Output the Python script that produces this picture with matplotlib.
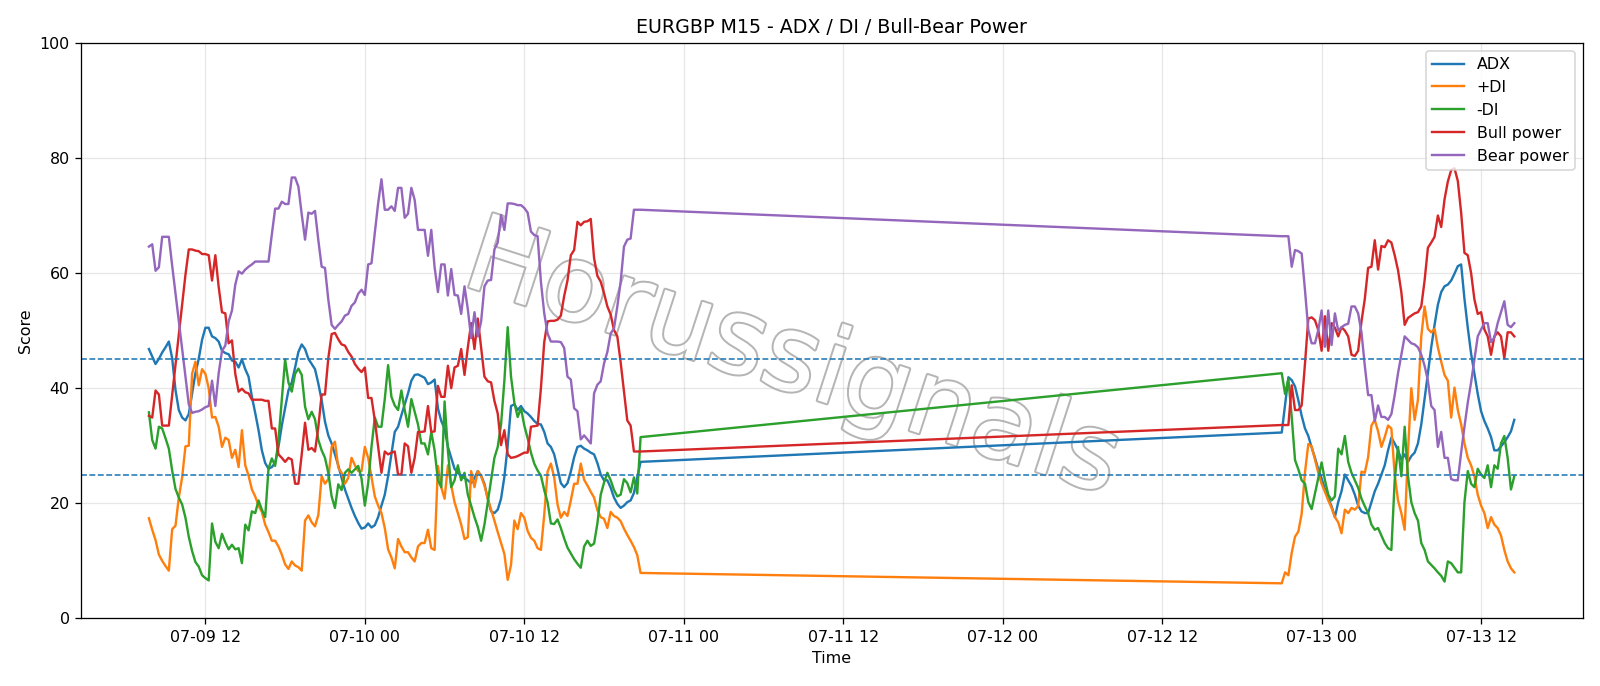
import matplotlib
matplotlib.use("Agg")
import matplotlib.pyplot as plt
import matplotlib.dates as mdates
import matplotlib.patheffects as pe
import pandas as pd

# M15 bars, friday evening -> sunday evening gap
times = list(pd.date_range("2020-07-09 07:45", periods=149, freq="15min")) + \
    list(pd.date_range("2020-07-12 21:00", periods=71, freq="15min"))

adx = [
    46.8, 45.5, 44.2, 45.1, 46.2, 47.1, 48.1, 45.2, 39.7, 36.2,
    34.9, 34.4, 35.5, 39.0, 42.6, 45.1, 48.4, 50.5, 50.5, 49.0,
    48.7, 48.1, 46.5, 46.1, 45.9, 44.8, 44.6, 43.6, 45.0, 43.3,
    42.0, 38.5, 35.7, 32.7, 29.2, 27.0, 26.0, 26.3, 27.0, 29.8,
    33.5, 36.6, 39.6, 41.0, 43.6, 46.3, 47.6, 46.8, 45.1, 44.2,
    43.3, 40.8, 37.9, 34.2, 31.8, 30.4, 28.5, 26.6, 24.4, 22.4,
    20.8, 19.2, 17.8, 16.6, 15.6, 15.8, 16.5, 15.8, 16.2, 17.6,
    19.6, 21.5, 24.7, 28.5, 32.4, 33.3, 35.3, 37.2, 39.1, 41.3,
    42.3, 42.4, 42.1, 41.8, 40.7, 41.0, 41.5, 36.5, 34.3, 33.0,
    29.8, 27.9, 26.0, 25.3, 24.7, 24.4, 24.0, 23.5, 24.4, 25.6,
    24.8, 23.4, 20.8, 18.6, 18.3, 18.9, 20.8, 24.6, 30.0, 36.9,
    37.2, 36.2, 36.9, 36.0, 35.6, 35.0, 34.3, 33.8, 33.7, 32.4,
    30.4, 29.8, 28.5, 26.0, 23.5, 22.8, 23.5, 25.5, 28.0, 29.8,
    30.0, 29.5, 29.2, 28.8, 28.5, 27.0, 25.0, 24.0, 24.0, 22.7,
    21.0, 19.9, 19.2, 19.6, 20.2, 20.5, 21.8, 24.5, 27.2,
    # sunday open
    32.3, 37.1, 41.9, 41.4, 40.3, 37.9, 35.2, 33.0, 31.7, 29.7,
    27.9, 25.9, 24.3, 22.4, 20.8, 19.5, 17.6, 20.2, 22.1, 25.0,
    24.0, 23.0, 21.5, 19.6, 18.6, 18.3, 18.3, 20.2, 22.1, 23.4,
    25.0, 26.6, 29.2, 31.4, 30.4, 29.2, 27.6, 28.5, 27.2, 28.2,
    28.8, 30.4, 33.7, 38.1, 42.6, 47.1, 51.0, 54.5, 56.7, 57.7,
    58.0, 58.7, 59.9, 61.2, 61.5, 55.5, 50.5, 46.0, 42.5, 39.0,
    36.0, 34.3, 33.0, 31.5, 29.2, 29.2, 29.9, 30.6, 31.5, 32.5,
    34.5,
]

plus_di = [
    17.4, 15.4, 13.6, 11.1, 10.0, 9.1, 8.3, 15.5, 16.1, 21.0,
    24.5, 29.9, 30.0, 42.5, 44.6, 40.5, 43.3, 42.5, 40.0, 34.9,
    35.0, 33.3, 29.8, 31.4, 31.0, 27.9, 29.3, 26.3, 32.7, 26.6,
    24.8, 22.4, 21.2, 19.6, 18.5, 16.3, 15.0, 13.5, 13.5, 12.5,
    11.1, 9.4, 8.6, 9.9, 9.2, 8.9, 8.3, 17.0, 17.9, 16.7,
    16.0, 18.0, 24.7, 23.4, 24.2, 29.8, 30.7, 26.2, 25.3, 23.4,
    24.4, 27.9, 26.6, 25.6, 25.6, 29.8, 27.9, 24.5, 21.2, 19.6,
    18.3, 15.7, 12.0, 10.6, 8.7, 13.8, 12.5, 11.5, 11.5, 10.6,
    9.9, 12.5, 13.1, 13.1, 15.4, 12.2, 11.9, 26.5, 22.8, 20.8,
    26.6, 23.1, 20.2, 18.3, 16.3, 13.8, 14.1, 25.6, 22.8, 25.6,
    24.7, 23.1, 20.8, 18.9, 17.0, 15.0, 13.1, 11.2, 6.7, 9.3,
    17.0, 15.5, 18.3, 17.5, 15.2, 14.0, 13.5, 12.2, 11.9, 18.0,
    25.5, 26.9, 24.5, 19.8, 17.5, 18.5, 17.8, 20.5, 23.4, 23.4,
    26.9, 24.1, 23.1, 22.0, 21.0, 18.8, 17.6, 17.3, 15.7, 18.5,
    17.8, 17.5, 16.9, 15.6, 14.5, 13.5, 12.4, 11.0, 7.9,
    # sunday open
    6.1, 8.0, 7.5, 11.4, 14.2, 15.1, 18.2, 25.4, 30.3, 29.9,
    27.6, 25.3, 23.4, 22.0, 20.5, 19.2, 17.6, 16.7, 14.8, 18.9,
    18.3, 19.2, 18.9, 19.5, 25.5, 25.3, 28.0, 33.5, 34.5, 32.5,
    29.8, 31.5, 33.5, 33.0, 25.0, 20.5, 18.3, 15.4, 29.0, 40.0,
    34.5, 38.0, 49.0, 54.2, 50.3, 49.7, 50.3, 47.1, 44.6, 42.3,
    41.3, 34.9, 40.1, 36.2, 33.7, 30.4, 27.9, 26.6, 24.7, 21.5,
    19.6, 18.3, 15.7, 17.6, 16.3, 15.7, 14.4, 11.9, 9.9, 8.7,
    8.0,
]

minus_di = [
    35.8, 31.0, 29.5, 33.3, 33.0, 31.3, 29.5, 25.7, 22.5, 21.0,
    19.8, 17.5, 14.2, 11.7, 9.8, 9.0, 7.5, 7.0, 6.6, 16.5,
    13.3, 12.2, 14.7, 13.2, 12.0, 12.8, 12.0, 12.2, 9.6, 16.3,
    15.3, 18.6, 18.3, 20.5, 18.9, 17.6, 26.0, 27.8, 26.5, 31.0,
    38.0, 45.0, 41.0, 39.4, 42.5, 43.4, 42.3, 36.8, 34.6, 35.9,
    34.6, 31.0, 29.2, 27.9, 25.3, 21.2, 19.2, 23.3, 22.3, 25.3,
    25.9, 25.3, 25.9, 26.5, 24.3, 19.6, 23.5, 29.8, 34.9, 33.3,
    33.3, 38.1, 44.0, 38.5, 37.0, 36.2, 39.6, 36.2, 33.3, 38.1,
    35.9, 33.7, 30.4, 30.4, 28.5, 32.4, 29.2, 24.0, 22.8, 37.7,
    29.2, 22.8, 24.0, 26.6, 24.0, 25.3, 21.5, 19.6, 17.6, 15.9,
    13.5, 16.3, 20.2, 24.0, 27.9, 29.8, 33.7, 41.3, 50.6, 42.0,
    37.5, 35.0, 36.5, 33.5, 31.3, 28.8, 26.9, 25.7, 24.8, 22.3,
    20.2, 16.5, 16.4, 17.2, 15.7, 13.9, 12.3, 11.3, 10.3, 9.5,
    8.8, 12.5, 13.5, 12.6, 13.0, 16.5, 21.5, 23.6, 25.3, 24.0,
    22.3, 21.2, 21.5, 24.2, 23.5, 21.9, 24.5, 21.7, 31.5,
    # sunday open
    42.6, 39.0, 41.6, 35.0, 27.5, 25.9, 24.0, 23.4, 20.2, 19.0,
    21.7, 24.4, 27.1, 24.0, 21.5, 20.5, 21.2, 29.5, 28.5, 31.7,
    27.2, 25.3, 24.0, 22.7, 20.8, 19.5, 18.3, 16.3, 15.4, 15.7,
    14.4, 13.1, 12.2, 11.9, 24.0, 29.8, 24.7, 33.3, 24.7, 20.2,
    18.3, 17.0, 13.1, 11.9, 9.9, 9.3, 8.7, 8.0, 7.4, 6.4,
    9.9, 9.6, 8.8, 8.0, 8.0, 20.2, 25.6, 23.4, 22.8, 26.0,
    25.0, 24.4, 26.6, 22.8, 26.6, 26.0, 30.4, 31.7, 27.9, 22.4,
    24.7,
]

bull_power = [
    35.2, 34.9, 39.6, 38.9, 33.5, 33.5, 33.5, 38.8, 44.0, 49.3,
    54.5, 59.7, 64.1, 64.1, 63.9, 63.8, 63.3, 63.3, 63.1, 58.7,
    63.1, 57.6, 53.2, 53.0, 47.8, 48.3, 42.5, 39.4, 39.9, 39.3,
    39.1, 38.0, 38.0, 38.0, 38.0, 37.8, 37.8, 33.0, 33.0, 28.5,
    27.9, 27.2, 27.9, 27.6, 23.4, 23.4, 28.5, 34.0, 29.3, 29.6,
    29.0, 33.3, 38.9, 38.9, 45.2, 49.4, 49.6, 48.5, 47.6, 47.4,
    46.3, 45.5, 44.2, 43.4, 42.8, 43.6, 38.3, 38.3, 34.4, 29.8,
    25.3, 29.0, 28.5, 28.8, 29.0, 25.0, 25.0, 30.4, 29.9, 25.3,
    27.9, 32.4, 32.4, 32.5, 36.9, 32.4, 32.5, 40.4, 38.5, 38.5,
    43.9, 40.0, 43.6, 43.9, 46.8, 42.3, 47.1, 51.3, 46.8, 52.1,
    47.1, 42.0, 41.2, 41.0, 37.8, 35.6, 30.1, 32.7, 28.5, 27.9,
    28.0, 28.2, 28.5, 28.8, 28.8, 33.3, 33.4, 33.5, 40.0, 48.0,
    51.6, 51.7, 51.7, 51.9, 52.6, 56.0, 58.7, 63.1, 64.0, 68.9,
    68.3, 68.9, 69.0, 69.4, 62.6, 59.5, 58.5, 56.5, 54.2, 52.8,
    50.1, 49.0, 44.5, 39.5, 34.4, 33.5, 29.0, 29.0, 29.0,
    # sunday open
    33.6, 33.6, 33.6, 40.5, 36.2, 36.2, 37.0, 44.3, 52.1, 52.3,
    51.8, 50.1, 46.5, 52.5, 46.5, 51.3, 50.5, 49.0, 50.6, 50.0,
    49.0, 45.8, 45.6, 46.5, 51.6, 55.5, 60.9, 61.1, 65.7, 60.6,
    64.7, 64.5, 65.7, 65.3, 63.1, 60.5, 56.7, 51.0, 52.2, 52.6,
    53.0, 53.2, 54.2, 58.7, 64.4, 65.3, 66.3, 70.0, 68.0, 72.8,
    75.9, 77.9, 78.2, 76.0, 70.5, 63.5, 63.1, 60.0, 55.4, 52.9,
    53.2, 50.2, 49.0, 45.8, 49.0, 49.7, 49.0, 45.2, 49.7, 49.7,
    49.0,
]

bear_power = [
    64.6, 65.0, 60.4, 61.0, 66.3, 66.3, 66.3, 61.3, 56.5, 51.7,
    46.9, 42.0, 37.2, 35.7, 35.9, 36.0, 36.3, 36.7, 36.9, 41.3,
    36.9, 42.6, 46.5, 47.4, 51.6, 53.5, 58.0, 60.3, 59.9, 60.6,
    61.1, 61.5, 62.0, 62.0, 62.0, 62.0, 62.0, 66.7, 71.2, 71.2,
    72.4, 72.0, 72.0, 76.6, 76.6, 75.0, 70.2, 65.8, 70.5, 70.3,
    70.8, 65.7, 61.1, 60.9, 55.4, 51.0, 50.3, 51.0, 51.6, 52.6,
    52.9, 54.3, 54.9, 56.4, 57.1, 56.2, 61.5, 61.7, 67.0, 72.1,
    76.3, 71.0, 71.0, 71.6, 70.8, 74.8, 74.8, 69.6, 70.3, 74.8,
    72.7, 67.5, 67.5, 67.5, 63.0, 67.5, 61.0, 56.7, 61.5, 61.5,
    56.1, 60.7, 56.2, 56.1, 52.9, 57.7, 53.7, 48.7, 53.2, 49.0,
    51.6, 57.7, 58.7, 58.8, 64.1, 65.3, 70.1, 67.5, 72.1, 72.1,
    72.0, 71.8, 71.8, 71.3, 70.5, 67.2, 66.6, 66.4, 58.5, 53.0,
    49.5, 48.1, 48.1, 48.1, 48.0, 47.0, 42.0, 41.5, 36.5, 36.0,
    31.1, 31.8, 31.1, 30.4, 39.1, 40.6, 41.2, 44.3, 46.3, 49.5,
    50.4, 54.2, 58.5, 64.6, 65.8, 66.0, 71.0, 71.0, 71.0,
    # sunday open
    66.4, 66.4, 66.4, 61.1, 64.0, 63.8, 63.4, 57.0, 50.1, 47.8,
    47.8, 50.1, 53.5, 47.2, 53.5, 47.5, 53.0, 50.0, 50.6, 51.0,
    51.2, 54.2, 54.2, 53.0, 49.7, 43.9, 38.8, 38.8, 34.3, 37.0,
    35.0, 35.0, 34.5, 35.5, 38.8, 42.6, 45.8, 49.0, 48.4, 47.8,
    47.6, 47.1, 45.8, 43.9, 41.3, 36.9, 36.2, 29.8, 32.4, 27.9,
    27.9, 24.2, 24.0, 24.0, 28.8, 33.3, 37.5, 41.0, 45.0, 49.0,
    50.2, 51.3, 51.3, 48.0, 48.8, 51.3, 53.2, 55.1, 51.0, 50.6,
    51.3,
]

fig, ax = plt.subplots(figsize=(14, 6.003))
fig.subplots_adjust(left=0.0504, right=0.9891, bottom=0.0985, top=0.9375)

ax.plot(times, adx, label="ADX")
ax.plot(times, plus_di, label="+DI")
ax.plot(times, minus_di, label="-DI")
ax.plot(times, bull_power, label="Bull power")
ax.plot(times, bear_power, label="Bear power")

ax.axhline(25, linestyle="--", linewidth=1)
ax.axhline(45, linestyle="--", linewidth=1)

ax.set_ylim(0, 100)
ax.xaxis.set_major_locator(mdates.HourLocator(byhour=[0, 12]))
ax.xaxis.set_major_formatter(mdates.DateFormatter("%m-%d %H"))
ax.grid(True, alpha=0.3)
ax.set_title("EURGBP M15 - ADX / DI / Bull-Bear Power")
ax.set_xlabel("Time")
ax.set_ylabel("Score")
ax.legend(loc="upper right")

# watermark
wm = ax.text(0.474, 0.446, "Horussignals", transform=ax.transAxes,
             fontsize=67, rotation=-18, ha="center", va="center",
             color="white", zorder=1)
wm.set_path_effects([pe.withStroke(linewidth=2.5, foreground="#b5b5b5")])

fig.savefig("out.png", dpi=1600 / 14 + 1e-6)
